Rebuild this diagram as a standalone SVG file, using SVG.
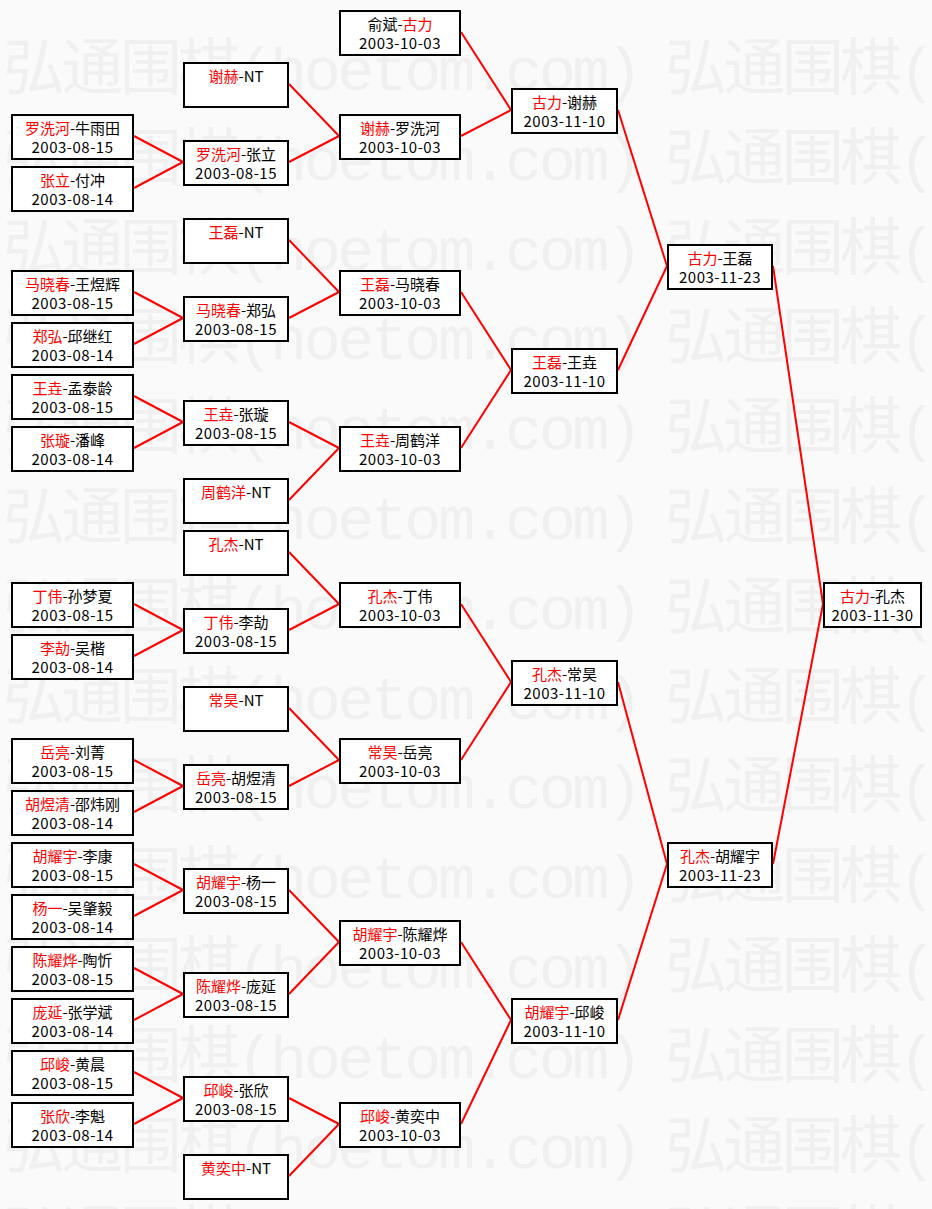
<svg xmlns="http://www.w3.org/2000/svg" width="932" height="1209" viewBox="0 0 932 1209">
<style>
.bg{fill:#fafafa}
.wm{font-family:"Liberation Mono","Noto Sans CJK SC",monospace;font-size:62px;fill:#f0f0f0}
.box{fill:#fff;stroke:#000;stroke-width:2}
.t{font-family:"Noto Sans CJK SC",sans-serif;font-size:15px;fill:#000;text-anchor:middle}
.d{letter-spacing:0.5px}
.r{fill:#f00}
.c line{stroke:#f00;stroke-width:2}
</style>
<rect class="bg" x="0" y="0" width="932" height="1209"/>
<g id="watermark" class="wm">
<text x="3" y="90" textLength="640" lengthAdjust="spacing">弘通围棋(hoetom.com)</text><text x="665" y="90" textLength="640" lengthAdjust="spacing">弘通围棋(hoetom.com)</text>
<text x="3" y="180" textLength="640" lengthAdjust="spacing">弘通围棋(hoetom.com)</text><text x="665" y="180" textLength="640" lengthAdjust="spacing">弘通围棋(hoetom.com)</text>
<text x="3" y="270" textLength="640" lengthAdjust="spacing">弘通围棋(hoetom.com)</text><text x="665" y="270" textLength="640" lengthAdjust="spacing">弘通围棋(hoetom.com)</text>
<text x="3" y="359" textLength="640" lengthAdjust="spacing">弘通围棋(hoetom.com)</text><text x="665" y="359" textLength="640" lengthAdjust="spacing">弘通围棋(hoetom.com)</text>
<text x="3" y="449" textLength="640" lengthAdjust="spacing">弘通围棋(hoetom.com)</text><text x="665" y="449" textLength="640" lengthAdjust="spacing">弘通围棋(hoetom.com)</text>
<text x="3" y="539" textLength="640" lengthAdjust="spacing">弘通围棋(hoetom.com)</text><text x="665" y="539" textLength="640" lengthAdjust="spacing">弘通围棋(hoetom.com)</text>
<text x="3" y="629" textLength="640" lengthAdjust="spacing">弘通围棋(hoetom.com)</text><text x="665" y="629" textLength="640" lengthAdjust="spacing">弘通围棋(hoetom.com)</text>
<text x="3" y="719" textLength="640" lengthAdjust="spacing">弘通围棋(hoetom.com)</text><text x="665" y="719" textLength="640" lengthAdjust="spacing">弘通围棋(hoetom.com)</text>
<text x="3" y="808" textLength="640" lengthAdjust="spacing">弘通围棋(hoetom.com)</text><text x="665" y="808" textLength="640" lengthAdjust="spacing">弘通围棋(hoetom.com)</text>
<text x="3" y="898" textLength="640" lengthAdjust="spacing">弘通围棋(hoetom.com)</text><text x="665" y="898" textLength="640" lengthAdjust="spacing">弘通围棋(hoetom.com)</text>
<text x="3" y="988" textLength="640" lengthAdjust="spacing">弘通围棋(hoetom.com)</text><text x="665" y="988" textLength="640" lengthAdjust="spacing">弘通围棋(hoetom.com)</text>
<text x="3" y="1078" textLength="640" lengthAdjust="spacing">弘通围棋(hoetom.com)</text><text x="665" y="1078" textLength="640" lengthAdjust="spacing">弘通围棋(hoetom.com)</text>
<text x="3" y="1168" textLength="640" lengthAdjust="spacing">弘通围棋(hoetom.com)</text><text x="665" y="1168" textLength="640" lengthAdjust="spacing">弘通围棋(hoetom.com)</text>
<text x="3" y="1257" textLength="640" lengthAdjust="spacing">弘通围棋(hoetom.com)</text><text x="665" y="1257" textLength="640" lengthAdjust="spacing">弘通围棋(hoetom.com)</text>
</g>
<g id="connectors" class="c">
<line x1="134" y1="136" x2="183" y2="162"/><line x1="134" y1="188" x2="183" y2="162"/>
<line x1="134" y1="292" x2="183" y2="318"/><line x1="134" y1="344" x2="183" y2="318"/>
<line x1="134" y1="396" x2="183" y2="422"/><line x1="134" y1="448" x2="183" y2="422"/>
<line x1="134" y1="604" x2="183" y2="630"/><line x1="134" y1="656" x2="183" y2="630"/>
<line x1="134" y1="760" x2="183" y2="786"/><line x1="134" y1="812" x2="183" y2="786"/>
<line x1="134" y1="864" x2="183" y2="890"/><line x1="134" y1="916" x2="183" y2="890"/>
<line x1="134" y1="968" x2="183" y2="994"/><line x1="134" y1="1020" x2="183" y2="994"/>
<line x1="134" y1="1072" x2="183" y2="1098"/><line x1="134" y1="1124" x2="183" y2="1098"/>
<line x1="289" y1="84" x2="339" y2="136"/><line x1="289" y1="162" x2="339" y2="136"/>
<line x1="289" y1="240" x2="339" y2="292"/><line x1="289" y1="318" x2="339" y2="292"/>
<line x1="289" y1="422" x2="339" y2="448"/><line x1="289" y1="500" x2="339" y2="448"/>
<line x1="289" y1="552" x2="339" y2="604"/><line x1="289" y1="630" x2="339" y2="604"/>
<line x1="289" y1="708" x2="339" y2="760"/><line x1="289" y1="786" x2="339" y2="760"/>
<line x1="289" y1="890" x2="339" y2="942"/><line x1="289" y1="994" x2="339" y2="942"/>
<line x1="289" y1="1098" x2="339" y2="1124"/><line x1="289" y1="1176" x2="339" y2="1124"/>
<line x1="461" y1="32" x2="511" y2="110"/><line x1="461" y1="136" x2="511" y2="110"/>
<line x1="461" y1="292" x2="511" y2="370"/><line x1="461" y1="448" x2="511" y2="370"/>
<line x1="461" y1="604" x2="511" y2="682"/><line x1="461" y1="760" x2="511" y2="682"/>
<line x1="461" y1="942" x2="511" y2="1020"/><line x1="461" y1="1124" x2="511" y2="1020"/>
<line x1="618" y1="110" x2="667" y2="266"/><line x1="618" y1="370" x2="667" y2="266"/>
<line x1="618" y1="682" x2="667" y2="864"/><line x1="618" y1="1020" x2="667" y2="864"/>
<line x1="773" y1="266" x2="823" y2="604"/><line x1="773" y1="864" x2="823" y2="604"/>
</g>
<g id="n1-01"><rect class="box" x="12" y="115" width="121" height="44"/><text class="t" x="72.5" y="134"><tspan class="r">罗洗河</tspan>-牛雨田</text><text class="t d" x="72.5" y="152.5">2003-08-15</text></g>
<g id="n1-02"><rect class="box" x="12" y="167" width="121" height="44"/><text class="t" x="72.5" y="186"><tspan class="r">张立</tspan>-付冲</text><text class="t d" x="72.5" y="204.5">2003-08-14</text></g>
<g id="n1-03"><rect class="box" x="12" y="271" width="121" height="44"/><text class="t" x="72.5" y="290"><tspan class="r">马晓春</tspan>-王煜辉</text><text class="t d" x="72.5" y="308.5">2003-08-15</text></g>
<g id="n1-04"><rect class="box" x="12" y="323" width="121" height="44"/><text class="t" x="72.5" y="342"><tspan class="r">郑弘</tspan>-邱继红</text><text class="t d" x="72.5" y="360.5">2003-08-14</text></g>
<g id="n1-05"><rect class="box" x="12" y="375" width="121" height="44"/><text class="t" x="72.5" y="394"><tspan class="r">王垚</tspan>-孟泰龄</text><text class="t d" x="72.5" y="412.5">2003-08-15</text></g>
<g id="n1-06"><rect class="box" x="12" y="427" width="121" height="44"/><text class="t" x="72.5" y="446"><tspan class="r">张璇</tspan>-潘峰</text><text class="t d" x="72.5" y="464.5">2003-08-14</text></g>
<g id="n1-07"><rect class="box" x="12" y="583" width="121" height="44"/><text class="t" x="72.5" y="602"><tspan class="r">丁伟</tspan>-孙梦夏</text><text class="t d" x="72.5" y="620.5">2003-08-15</text></g>
<g id="n1-08"><rect class="box" x="12" y="635" width="121" height="44"/><text class="t" x="72.5" y="654"><tspan class="r">李劼</tspan>-吴楷</text><text class="t d" x="72.5" y="672.5">2003-08-14</text></g>
<g id="n1-09"><rect class="box" x="12" y="739" width="121" height="44"/><text class="t" x="72.5" y="758"><tspan class="r">岳亮</tspan>-刘菁</text><text class="t d" x="72.5" y="776.5">2003-08-15</text></g>
<g id="n1-10"><rect class="box" x="12" y="791" width="121" height="44"/><text class="t" x="72.5" y="810"><tspan class="r">胡煜清</tspan>-邵炜刚</text><text class="t d" x="72.5" y="828.5">2003-08-14</text></g>
<g id="n1-11"><rect class="box" x="12" y="843" width="121" height="44"/><text class="t" x="72.5" y="862"><tspan class="r">胡耀宇</tspan>-李康</text><text class="t d" x="72.5" y="880.5">2003-08-15</text></g>
<g id="n1-12"><rect class="box" x="12" y="895" width="121" height="44"/><text class="t" x="72.5" y="914"><tspan class="r">杨一</tspan>-吴肇毅</text><text class="t d" x="72.5" y="932.5">2003-08-14</text></g>
<g id="n1-13"><rect class="box" x="12" y="947" width="121" height="44"/><text class="t" x="72.5" y="966"><tspan class="r">陈耀烨</tspan>-陶忻</text><text class="t d" x="72.5" y="984.5">2003-08-15</text></g>
<g id="n1-14"><rect class="box" x="12" y="999" width="121" height="44"/><text class="t" x="72.5" y="1018"><tspan class="r">庞延</tspan>-张学斌</text><text class="t d" x="72.5" y="1036.5">2003-08-14</text></g>
<g id="n1-15"><rect class="box" x="12" y="1051" width="121" height="44"/><text class="t" x="72.5" y="1070"><tspan class="r">邱峻</tspan>-黄晨</text><text class="t d" x="72.5" y="1088.5">2003-08-15</text></g>
<g id="n1-16"><rect class="box" x="12" y="1103" width="121" height="44"/><text class="t" x="72.5" y="1122"><tspan class="r">张欣</tspan>-李魁</text><text class="t d" x="72.5" y="1140.5">2003-08-14</text></g>
<g id="n2-01"><rect class="box" x="184" y="63" width="104" height="44"/><text class="t" x="236" y="82"><tspan class="r">谢赫</tspan>-NT</text></g>
<g id="n2-02"><rect class="box" x="184" y="141" width="104" height="44"/><text class="t" x="236" y="160"><tspan class="r">罗洗河</tspan>-张立</text><text class="t d" x="236" y="178.5">2003-08-15</text></g>
<g id="n2-03"><rect class="box" x="184" y="219" width="104" height="44"/><text class="t" x="236" y="238"><tspan class="r">王磊</tspan>-NT</text></g>
<g id="n2-04"><rect class="box" x="184" y="297" width="104" height="44"/><text class="t" x="236" y="316"><tspan class="r">马晓春</tspan>-郑弘</text><text class="t d" x="236" y="334.5">2003-08-15</text></g>
<g id="n2-05"><rect class="box" x="184" y="401" width="104" height="44"/><text class="t" x="236" y="420"><tspan class="r">王垚</tspan>-张璇</text><text class="t d" x="236" y="438.5">2003-08-15</text></g>
<g id="n2-06"><rect class="box" x="184" y="479" width="104" height="44"/><text class="t" x="236" y="498"><tspan class="r">周鹤洋</tspan>-NT</text></g>
<g id="n2-07"><rect class="box" x="184" y="531" width="104" height="44"/><text class="t" x="236" y="550"><tspan class="r">孔杰</tspan>-NT</text></g>
<g id="n2-08"><rect class="box" x="184" y="609" width="104" height="44"/><text class="t" x="236" y="628"><tspan class="r">丁伟</tspan>-李劼</text><text class="t d" x="236" y="646.5">2003-08-15</text></g>
<g id="n2-09"><rect class="box" x="184" y="687" width="104" height="44"/><text class="t" x="236" y="706"><tspan class="r">常昊</tspan>-NT</text></g>
<g id="n2-10"><rect class="box" x="184" y="765" width="104" height="44"/><text class="t" x="236" y="784"><tspan class="r">岳亮</tspan>-胡煜清</text><text class="t d" x="236" y="802.5">2003-08-15</text></g>
<g id="n2-11"><rect class="box" x="184" y="869" width="104" height="44"/><text class="t" x="236" y="888"><tspan class="r">胡耀宇</tspan>-杨一</text><text class="t d" x="236" y="906.5">2003-08-15</text></g>
<g id="n2-12"><rect class="box" x="184" y="973" width="104" height="44"/><text class="t" x="236" y="992"><tspan class="r">陈耀烨</tspan>-庞延</text><text class="t d" x="236" y="1010.5">2003-08-15</text></g>
<g id="n2-13"><rect class="box" x="184" y="1077" width="104" height="44"/><text class="t" x="236" y="1096"><tspan class="r">邱峻</tspan>-张欣</text><text class="t d" x="236" y="1114.5">2003-08-15</text></g>
<g id="n2-14"><rect class="box" x="184" y="1155" width="104" height="44"/><text class="t" x="236" y="1174"><tspan class="r">黄奕中</tspan>-NT</text></g>
<g id="n3-01"><rect class="box" x="340" y="11" width="120" height="44"/><text class="t" x="400" y="30">俞斌-<tspan class="r">古力</tspan></text><text class="t d" x="400" y="48.5">2003-10-03</text></g>
<g id="n3-02"><rect class="box" x="340" y="115" width="120" height="44"/><text class="t" x="400" y="134"><tspan class="r">谢赫</tspan>-罗洗河</text><text class="t d" x="400" y="152.5">2003-10-03</text></g>
<g id="n3-03"><rect class="box" x="340" y="271" width="120" height="44"/><text class="t" x="400" y="290"><tspan class="r">王磊</tspan>-马晓春</text><text class="t d" x="400" y="308.5">2003-10-03</text></g>
<g id="n3-04"><rect class="box" x="340" y="427" width="120" height="44"/><text class="t" x="400" y="446"><tspan class="r">王垚</tspan>-周鹤洋</text><text class="t d" x="400" y="464.5">2003-10-03</text></g>
<g id="n3-05"><rect class="box" x="340" y="583" width="120" height="44"/><text class="t" x="400" y="602"><tspan class="r">孔杰</tspan>-丁伟</text><text class="t d" x="400" y="620.5">2003-10-03</text></g>
<g id="n3-06"><rect class="box" x="340" y="739" width="120" height="44"/><text class="t" x="400" y="758"><tspan class="r">常昊</tspan>-岳亮</text><text class="t d" x="400" y="776.5">2003-10-03</text></g>
<g id="n3-07"><rect class="box" x="340" y="921" width="120" height="44"/><text class="t" x="400" y="940"><tspan class="r">胡耀宇</tspan>-陈耀烨</text><text class="t d" x="400" y="958.5">2003-10-03</text></g>
<g id="n3-08"><rect class="box" x="340" y="1103" width="120" height="44"/><text class="t" x="400" y="1122"><tspan class="r">邱峻</tspan>-黄奕中</text><text class="t d" x="400" y="1140.5">2003-10-03</text></g>
<g id="n4-01"><rect class="box" x="512" y="89" width="105" height="44"/><text class="t" x="564.5" y="108"><tspan class="r">古力</tspan>-谢赫</text><text class="t d" x="564.5" y="126.5">2003-11-10</text></g>
<g id="n4-02"><rect class="box" x="512" y="349" width="105" height="44"/><text class="t" x="564.5" y="368"><tspan class="r">王磊</tspan>-王垚</text><text class="t d" x="564.5" y="386.5">2003-11-10</text></g>
<g id="n4-03"><rect class="box" x="512" y="661" width="105" height="44"/><text class="t" x="564.5" y="680"><tspan class="r">孔杰</tspan>-常昊</text><text class="t d" x="564.5" y="698.5">2003-11-10</text></g>
<g id="n4-04"><rect class="box" x="512" y="999" width="105" height="44"/><text class="t" x="564.5" y="1018"><tspan class="r">胡耀宇</tspan>-邱峻</text><text class="t d" x="564.5" y="1036.5">2003-11-10</text></g>
<g id="n5-01"><rect class="box" x="668" y="245" width="104" height="44"/><text class="t" x="720" y="264"><tspan class="r">古力</tspan>-王磊</text><text class="t d" x="720" y="282.5">2003-11-23</text></g>
<g id="n5-02"><rect class="box" x="668" y="843" width="104" height="44"/><text class="t" x="720" y="862"><tspan class="r">孔杰</tspan>-胡耀宇</text><text class="t d" x="720" y="880.5">2003-11-23</text></g>
<g id="n6-01"><rect class="box" x="824" y="583" width="97" height="44"/><text class="t" x="872.5" y="602"><tspan class="r">古力</tspan>-孔杰</text><text class="t d" x="872.5" y="620.5">2003-11-30</text></g>
</svg>
